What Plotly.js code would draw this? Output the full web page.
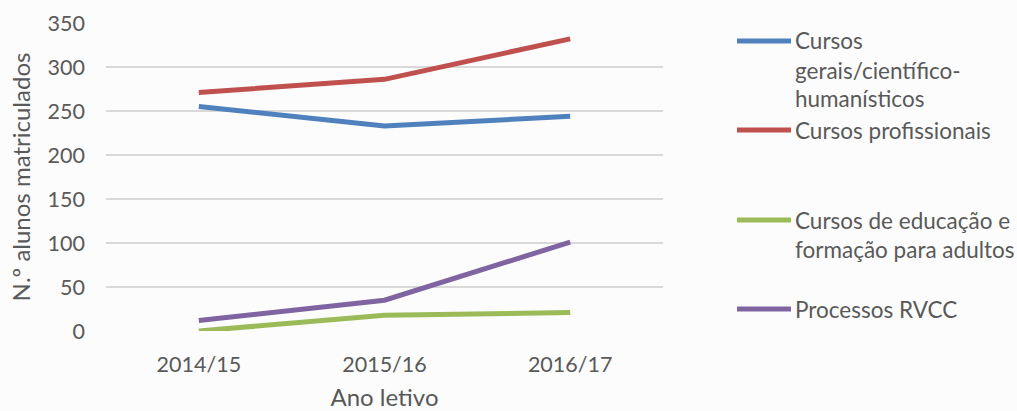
<!DOCTYPE html>
<html><head><meta charset="utf-8">
<script src="https://cdn.plot.ly/plotly-3.0.1.min.js"></script>
<style>body{margin:0;background:#fcfcfc}</style></head>
<body><div id="chart" style="width:1017px;height:411px"></div>
<script>
const years = ["2014/15", "2015/16", "2016/17"];
const seriesNames = ["Cursos gerais/científico-humanísticos", "Cursos profissionais", "Cursos de educação e formação para adultos", "Processos RVCC"];
const gerais = [255, 233, 244];
const profissionais = [271, 286, 332];
const adultos = [0, 18, 21];
const rvcc = [12, 35, 101];
const legendLines = [["Cursos", "gerais/científico-", "humanísticos"], ["Cursos profissionais"], ["Cursos de educação e", "formação para adultos"], ["Processos RVCC"]];
const yTicks = [0, 50, 100, 150, 200, 250, 300, 350];

const colors = ["#4F81BD", "#C0504D", "#9BBB59", "#8064A2"];
const values = [gerais, profissionais, adultos, rvcc];
const FONT = "Lato, 'Open Sans', sans-serif";
const TXT = "#595959";

const L = 106, R = 663, T = 23, B = 331;
const W = R - L, H = B - T;
const px = x => (x - L) / W;
const py = y => (B - y) / H;

const traces = values.map((v, i) => ({
  type: "scatter", mode: "lines", x: years, y: v, name: seriesNames[i],
  line: {color: colors[i], width: 5}, showlegend: false, hoverinfo: "x+y+name"
}));

const legendY = [41, 130, 220, 309];
const shapes = [];
const annotations = [];
legendLines.forEach((lines, i) => {
  shapes.push({type: "line", xref: "paper", yref: "paper", x0: px(737), x1: px(791), y0: py(legendY[i]), y1: py(legendY[i]),
    line: {color: colors[i], width: 5}});
  lines.forEach((t, j) => {
    annotations.push({xref: "paper", yref: "paper", x: px(793), y: py(legendY[i] + j * 29), xanchor: "left", yanchor: "middle",
      text: t, showarrow: false, font: {family: FONT, size: 22.5, color: TXT}});
  });
});

const layout = {
  width: 1017, height: 411,
  margin: {l: L, r: 1017 - R, t: T, b: 411 - B, pad: 0},
  paper_bgcolor: "#fcfcfc", plot_bgcolor: "#fcfcfc",
  font: {family: FONT, size: 21, color: TXT},
  showlegend: false,
  xaxis: {type: "category", range: [-0.5, 2.5], showgrid: false, zeroline: false, showline: false, ticks: "",
    ticklabelstandoff: 18, tickfont: {size: 21.5, color: TXT},
    title: {text: "Ano letivo", font: {size: 24, color: TXT}, standoff: 15}, automargin: false},
  yaxis: {range: [0, 350], tickvals: yTicks, ticktext: yTicks.map(String), showgrid: true, gridcolor: "#d9d9d9", gridwidth: 2,
    zeroline: false, showline: false, ticks: "", ticklabelstandoff: 20, tickfont: {size: 21.5, color: TXT},
    title: {text: "N.º alunos matriculados", font: {size: 24, color: TXT}, standoff: 10}, automargin: false},
  shapes: shapes, annotations: annotations
};

Plotly.newPlot("chart", traces, layout, {displayModeBar: false, staticPlot: true});
</script></body></html>
